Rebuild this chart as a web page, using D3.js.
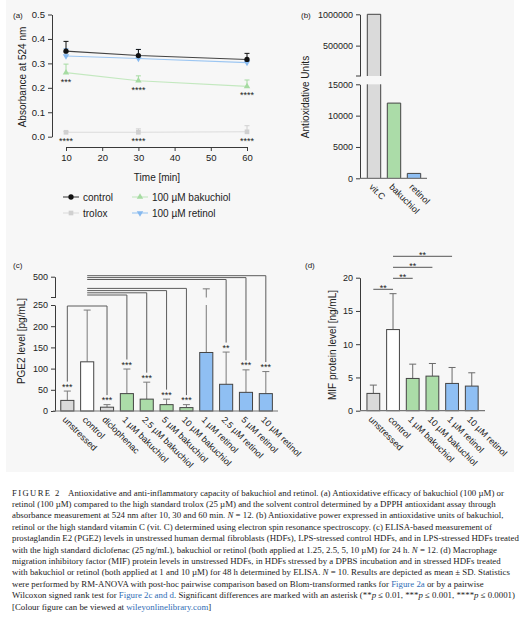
<!DOCTYPE html>
<html>
<head>
<meta charset="utf-8">
<script src="https://cdn.jsdelivr.net/npm/d3@7"></script>
<style>
  html, body { margin: 0; padding: 0; background: #fff; }
  svg { display: block; font-family: "Liberation Sans", Arial, sans-serif; }
</style>
</head>
<body>
<div id="fig"></div>
<script>
// ---- panel (a): DPPH assay, absorbance at 524 nm ----
var times = [10, 30, 60];
var timeTicks = [10, 20, 30, 40, 50, 60];
var absTicks = [0, 0.1, 0.2, 0.3, 0.4, 0.5];
var controlMean = [0.350, 0.332, 0.316];
var controlSd = [0.040, 0.025, 0.025];
var troloxMean = [0.018, 0.018, 0.020];
var troloxSd = [0.003, 0.014, 0.025];
var bakuchiolMean = [0.262, 0.229, 0.206];
var bakuchiolSd = [0.035, 0.020, 0.026];
var retinolMean = [0.330, 0.320, 0.303];
var retinolSd = [0.030, 0.037, 0.006];
var bakuchiolStars = ["***", "****", "****"];
var troloxStars = ["****", "****", "****"];
var seriesNames = ["control", "trolox", "100 µM bakuchiol", "100 µM retinol"];

// ---- panel (b): antioxidative units ----
var antioxCats = ["vit.C", "bakuchiol", "retinol"];
var antioxUnits = [1000000, 12000, 780];
var antioxLowTicks = [0, 5000, 10000, 15000];
var antioxHighTicks = [500000, 1000000];

// ---- panel (c): PGE2 ----
var pgeCats = ["unstressed", "control", "diclophenac", "1 µM bakuchiol", "2.5 µM bakuchiol",
  "5 µM bakuchiol", "10 µM bakuchiol", "1 µM retinol", "2.5 µM retinol", "5 µM retinol", "10 µM retinol"];
var pgeGroup = ["gray", "white", "gray", "green", "green", "green", "green", "blue", "blue", "blue", "blue"];
var pgeMean = [25, 116, 9, 41, 28, 15, 8, 138, 63, 44, 41];
var pgeSd = [22, 122, 6, 58, 40, 13, 7, 222, 76, 53, 52];
var pgeStars = ["***", "", "***", "***", "***", "***", "***", "", "**", "***", "***"];
var pgeLowTicks = [0, 50, 100, 150, 200, 250];
var pgeHighTicks = [500];
// comparisons against control, drawn as stacked brackets
var pgeUpperBrackets = ["2.5 µM retinol", "5 µM retinol", "10 µM retinol"];
var pgeMidBrackets = ["1 µM bakuchiol", "2.5 µM bakuchiol", "5 µM bakuchiol", "10 µM bakuchiol"];

// ---- panel (d): MIF ----
var mifCats = ["unstressed", "control", "1 µM bakuchiol", "10 µM bakuchiol", "1 µM retinol", "10 µM retinol"];
var mifGroup = ["gray", "white", "green", "green", "blue", "blue"];
var mifMean = [2.6, 12.2, 4.85, 5.2, 4.1, 3.7];
var mifSd = [1.25, 5.4, 2.15, 1.9, 2.4, 2.0];
var mifTicks = [0, 5, 10, 15, 20];
var mifPairs = [["unstressed", "control"], ["control", "1 µM bakuchiol"],
  ["control", "10 µM bakuchiol"], ["control", "1 µM retinol"]];
var mifPairStars = ["**", "**", "**", "**"];

// ---- caption ----
var captionLines = [
  "Antioxidative and anti-inflammatory capacity of bakuchiol and retinol. (a) Antioxidative efficacy of bakuchiol (100 µM) or",
  "retinol (100 µM) compared to the high standard trolox (25 µM) and the solvent control determined by a DPPH antioxidant assay through",
  "absorbance measurement at 524 nm after 10, 30 and 60 min. N = 12. (b) Antioxidative power expressed in antioxidative units of bakuchiol,",
  "retinol or the high standard vitamin C (vit. C) determined using electron spin resonance spectroscopy. (c) ELISA-based measurement of",
  "prostaglandin E2 (PGE2) levels in unstressed human dermal fibroblasts (HDFs), LPS-stressed control HDFs, and in LPS-stressed HDFs treated",
  "with the high standard diclofenac (25 ng/mL), bakuchiol or retinol (both applied at 1.25, 2.5, 5, 10 µM) for 24 h. N = 12. (d) Macrophage",
  "migration inhibitory factor (MIF) protein levels in unstressed HDFs, in HDFs stressed by a DPBS incubation and in stressed HDFs treated",
  "with bakuchiol or retinol (both applied at 1 and 10 µM) for 48 h determined by ELISA. N = 10. Results are depicted as mean ± SD. Statistics",
  "were performed by RM-ANOVA with post-hoc pairwise comparison based on Blom-transformed ranks for Figure 2a or by a pairwise",
  "Wilcoxon signed rank test for Figure 2c and d. Significant differences are marked with an asterisk (**p ≤ 0.01, ***p ≤ 0.001, ****p ≤ 0.0001)",
  "[Colour figure can be viewed at wileyonlinelibrary.com]"
];

var fills = { gray: "#dadada", white: "#ffffff", green: "#abdca8", blue: "#8fbff3" };
var axisColor = "#3a3a3a";
var tickFont = 9.5;

var svg = d3.select("#fig").append("svg")
  .attr("width", 525)
  .attr("height", 621);

svg.append("rect")
  .attr("x", 6).attr("y", 0)
  .attr("width", 508).attr("height", 472)
  .attr("fill", "#f7f7f7");

function styleAxis(sel) {
  sel.select(".domain").attr("stroke", axisColor).attr("stroke-width", 1);
  sel.selectAll(".tick line").attr("stroke", axisColor).attr("stroke-width", 1);
  sel.selectAll(".tick text")
    .attr("fill", "#222")
    .style("font-size", tickFont + "px")
    .style("font-family", '"Liberation Sans", Arial, sans-serif');
}

function panelLabel(txt, x, y) {
  svg.append("text").attr("x", x).attr("y", y).attr("dy", "0.35em")
    .style("font-size", "8px").attr("fill", "#222").text(txt);
}

function yTitle(txt, x, y) {
  svg.append("text")
    .attr("transform", "translate(" + x + "," + y + ") rotate(-90)")
    .attr("text-anchor", "middle").attr("dy", "0.35em")
    .style("font-size", "10px").attr("fill", "#222").text(txt);
}

function rotatedLabels(g, cats, xs, axisY) {
  g.selectAll("text.cat").data(cats).enter().append("text")
    .attr("class", "cat")
    .attr("transform", function(d) { return "translate(" + (xs(d) - 3) + "," + (axisY + 7) + ") rotate(45)"; })
    .attr("dy", "0.35em")
    .style("font-size", "9px").attr("fill", "#222")
    .text(function(d) { return d; });
}

// ================= panel (a) =================
(function() {
  var xA = d3.scaleLinear().domain([10, 60]).range([66, 247]);
  var yA = d3.scaleLinear().domain([0, 0.5]).range([136.7, 14.5]);
  var g = svg.append("g");

  g.append("g").attr("transform", "translate(52,0)")
    .call(d3.axisLeft(yA).tickValues(absTicks).tickFormat(d3.format(".1f")).tickSize(4).tickSizeOuter(0))
    .call(styleAxis);
  g.append("g").attr("transform", "translate(0,147)")
    .call(d3.axisBottom(xA).tickValues(timeTicks).tickSize(4).tickSizeOuter(0))
    .call(styleAxis);

  var series = [
    { name: seriesNames[1], mean: troloxMean, sd: troloxSd, line: "#dcdcdc", mark: "#d0d0d0", sym: d3.symbolSquare, rot: 0 },
    { name: seriesNames[2], mean: bakuchiolMean, sd: bakuchiolSd, line: "#c3e8bf", mark: "#a6dba2", sym: d3.symbolTriangle, rot: 0 },
    { name: seriesNames[3], mean: retinolMean, sd: retinolSd, line: "#9cc6f2", mark: "#86b9ef", sym: d3.symbolTriangle, rot: 180 },
    { name: seriesNames[0], mean: controlMean, sd: controlSd, line: "#444", mark: "#111", sym: d3.symbolCircle, rot: 0 }
  ];

  var line = d3.line().x(function(d) { return xA(d[0]); }).y(function(d) { return yA(d[1]); });

  series.forEach(function(s) {
    var pts = times.map(function(t, i) { return [t, s.mean[i], s.sd[i]]; });
    var sg = g.append("g");
    sg.selectAll("path.eb").data(pts).enter().append("path")
      .attr("class", "eb")
      .attr("d", function(d) {
        var x = xA(d[0]), y0 = yA(d[1]), y1 = yA(d[1] + d[2]);
        return "M" + x + "," + y0 + "V" + y1 + "M" + (x - 2.5) + "," + y1 + "H" + (x + 2.5);
      })
      .attr("stroke", s.mark).attr("stroke-width", 1).attr("fill", "none");
    sg.append("path").datum(pts).attr("d", line)
      .attr("fill", "none").attr("stroke", s.line).attr("stroke-width", 1.1);
    sg.selectAll("path.mk").data(pts).enter().append("path")
      .attr("class", "mk")
      .attr("transform", function(d) { return "translate(" + xA(d[0]) + "," + yA(d[1]) + ") rotate(" + s.rot + ")"; })
      .attr("d", d3.symbol().type(s.sym).size(s.sym === d3.symbolTriangle ? 18 : 22))
      .attr("fill", s.mark);
  });

  var starData = times.map(function(t, i) { return [t, bakuchiolMean[i], bakuchiolStars[i]]; })
    .concat(times.map(function(t, i) { return [t, troloxMean[i], troloxStars[i]]; }));
  g.selectAll("text.star").data(starData).enter().append("text")
    .attr("x", function(d) { return xA(d[0]); })
    .attr("y", function(d) { return yA(d[1]) + 12; })
    .attr("text-anchor", "middle")
    .style("font-size", "9px").attr("fill", "#222")
    .text(function(d) { return d[2]; });

  // x title
  g.append("text").attr("x", 157).attr("y", 177).attr("dy", "0.35em")
    .attr("text-anchor", "middle").style("font-size", "10px").attr("fill", "#222").text("Time [min]");

  // legend
  var legendOrder = [series[3], series[0], series[1], series[2]];
  legendOrder.forEach(function(s, i) {
    var col = i < 2 ? 0 : 1, row = i % 2;
    var x0 = col === 0 ? 63 : 132, y0 = row === 0 ? 197 : 213;
    var lg = g.append("g");
    lg.append("line").attr("x1", x0).attr("x2", x0 + 16).attr("y1", y0).attr("y2", y0)
      .attr("stroke", s.line).attr("stroke-width", 1.1);
    lg.append("path")
      .attr("transform", "translate(" + (x0 + 8) + "," + y0 + ") rotate(" + s.rot + ")")
      .attr("d", d3.symbol().type(s.sym).size(s.sym === d3.symbolTriangle ? 18 : 22))
      .attr("fill", s.mark);
    lg.append("text").attr("x", x0 + 20).attr("y", y0).attr("dy", "0.35em")
      .style("font-size", "10px").attr("fill", "#222").text(s.name);
  });

  yTitle("Absorbance at 524 nm", 22, 77);
  panelLabel("(a)", 13, 15);
})();

// ================= panel (b) =================
(function() {
  var xB = d3.scaleBand().domain(antioxCats).range([364, 424]).paddingInner(0.33).paddingOuter(0.165);
  var yLow = d3.scaleLinear().domain([0, 15000]).range([178.3, 84.3]);
  var yHigh = d3.scaleLinear().domain([15000, 1000000]).range([76, 14.3]);
  var g = svg.append("g");

  g.append("g").attr("transform", "translate(360,0)")
    .call(d3.axisLeft(yLow).tickValues(antioxLowTicks).tickFormat(d3.format("d")).tickSize(4).tickSizeOuter(0))
    .call(styleAxis);
  g.append("g").attr("transform", "translate(360,0)")
    .call(d3.axisLeft(yHigh).tickValues(antioxHighTicks).tickFormat(d3.format("d")).tickSize(4).tickSizeOuter(0))
    .call(styleAxis);
  // end tick of the upper segment
  g.append("line").attr("x1", 356).attr("x2", 360).attr("y1", yHigh(15000)).attr("y2", yHigh(15000))
    .attr("stroke", axisColor);
  g.selectAll(".tick text").style("font-size", "9px");

  var bw = xB.bandwidth();
  antioxCats.forEach(function(c, i) {
    var v = antioxUnits[i];
    var x = xB(c);
    var fill = [fills.gray, fills.green, fills.blue][i];
    var topLow = yLow(Math.min(v, 15000));
    var bottom = yLow(0);
    var path;
    if (v > 15000) {
      var topHigh = yHigh(v);
      g.append("rect").attr("x", x).attr("y", topHigh).attr("width", bw).attr("height", yHigh(15000) - topHigh).attr("fill", fill);
      g.append("rect").attr("x", x).attr("y", topLow).attr("width", bw).attr("height", bottom - topLow).attr("fill", fill);
      path = "M" + x + "," + yHigh(15000) + "V" + topHigh + "H" + (x + bw) + "V" + yHigh(15000) +
        "M" + x + "," + topLow + "V" + bottom + "M" + (x + bw) + "," + topLow + "V" + bottom;
    } else {
      g.append("rect").attr("x", x).attr("y", topLow).attr("width", bw).attr("height", bottom - topLow).attr("fill", fill);
      path = "M" + x + "," + bottom + "V" + topLow + "H" + (x + bw) + "V" + bottom;
    }
    g.append("path").attr("d", path).attr("fill", "none").attr("stroke", "#444").attr("stroke-width", 1);
  });

  g.append("line").attr("x1", 360).attr("x2", 427).attr("y1", yLow(0)).attr("y2", yLow(0))
    .attr("stroke", "#777").attr("stroke-width", 1.2);

  var xc = function(d) { return xB(d) + bw / 2; };
  rotatedLabels(g, antioxCats, xc, yLow(0));

  yTitle("Antioxidative Units", 305, 97);
  panelLabel("(b)", 301, 15);
})();

// ================= bar helper for (c) and (d) =================
function drawBars(g, cats, groups, mean, xS, yS, barW) {
  cats.forEach(function(c, i) {
    var cx = xS(c);
    var top = yS(mean[i]), bottom = yS(0);
    g.append("rect")
      .attr("x", cx - barW / 2).attr("y", top)
      .attr("width", barW).attr("height", bottom - top)
      .attr("fill", fills[groups[i]])
      .attr("stroke", "#444").attr("stroke-width", 1);
  });
}

// ================= panel (c) =================
(function() {
  var xC = d3.scalePoint().domain(pgeCats).range([57.4, 275.75]).padding(0.5);
  var yLow = d3.scaleLinear().domain([0, 250]).range([411, 305]);
  var yHigh = d3.scaleLinear().domain([260, 500]).range([297.5, 276.7]);
  var barW = xC.step() * 0.66;
  var g = svg.append("g");

  g.append("g").attr("transform", "translate(55,0)")
    .call(d3.axisLeft(yLow).tickValues(pgeLowTicks).tickSize(4).tickSizeOuter(0))
    .call(styleAxis);
  g.append("g").attr("transform", "translate(55,0)")
    .call(d3.axisLeft(yHigh).tickValues(pgeHighTicks).tickSize(4).tickSizeOuter(0))
    .call(styleAxis);
  g.append("line").attr("x1", 51).attr("x2", 55).attr("y1", yHigh(260)).attr("y2", yHigh(260))
    .attr("stroke", axisColor);
  g.selectAll(".tick text").style("font-size", "9px");

  // error bars (upward only), broken where the axis breaks
  var errTop = [];
  pgeCats.forEach(function(c, i) {
    var cx = xC(c);
    var hi = pgeMean[i] + pgeSd[i];
    var y0 = yLow(pgeMean[i]);
    var d;
    if (hi > 250) {
      var y1 = yHigh(hi);
      d = "M" + cx + "," + y0 + "V" + yLow(250) + "M" + cx + "," + yHigh(260) + "V" + y1 +
        "M" + (cx - 3.5) + "," + y1 + "H" + (cx + 3.5);
      errTop.push(y1);
    } else {
      var y2 = yLow(hi);
      d = "M" + cx + "," + y0 + "V" + y2 + "M" + (cx - 3.5) + "," + y2 + "H" + (cx + 3.5);
      errTop.push(y2);
    }
    g.append("path").attr("d", d).attr("stroke", "#7a7a7a").attr("stroke-width", 1).attr("fill", "none");
  });

  drawBars(g, pgeCats, pgeGroup, pgeMean, xC, yLow, barW);

  g.append("line").attr("x1", 53).attr("x2", 278).attr("y1", yLow(0)).attr("y2", yLow(0))
    .attr("stroke", "#777").attr("stroke-width", 1.2);

  // stars
  pgeCats.forEach(function(c, i) {
    if (!pgeStars[i]) return;
    g.append("text").attr("x", xC(c)).attr("y", errTop[i] - 1.5)
      .attr("text-anchor", "middle").style("font-size", "9px").attr("fill", "#222")
      .text(pgeStars[i]);
  });

  // brackets vs control
  var ctrlX = xC("control");
  var idx = function(name) { return pgeCats.indexOf(name); };
  var bracketColor = "#5c5c5c";
  function drop(name, yLevel) {
    var tx = xC(name);
    g.append("path")
      .attr("d", "M" + ctrlX + "," + yLevel + "H" + tx + "V" + (errTop[idx(name)] - 9.5))
      .attr("fill", "none").attr("stroke", bracketColor).attr("stroke-width", 1);
  }
  pgeUpperBrackets.forEach(function(name, k) { drop(name, 279.5 - 1.9 * k); });
  pgeMidBrackets.forEach(function(name, k) { drop(name, 295 - 2.2 * k); });
  // unstressed / diclophenac bracket across control
  var yU = 306;
  g.append("path")
    .attr("d", "M" + xC("unstressed") + "," + (errTop[0] - 9.5) + "V" + yU + "H" + xC("diclophenac") +
      "V" + (errTop[idx("diclophenac")] - 9.5))
    .attr("fill", "none").attr("stroke", bracketColor).attr("stroke-width", 1);

  rotatedLabels(g, pgeCats, xC, yLow(0));

  yTitle("PGE2 level [pg/mL]", 21, 341);
  panelLabel("(c)", 13, 265);
})();

// ================= panel (d) =================
(function() {
  var xD = d3.scalePoint().domain(mifCats).range([363.5, 481.6]).padding(0.5);
  var yD = d3.scaleLinear().domain([0, 20]).range([410.7, 277.7]);
  var barW = xD.step() * 0.65;
  var g = svg.append("g");

  g.append("g").attr("transform", "translate(360,0)")
    .call(d3.axisLeft(yD).tickValues(mifTicks).tickSize(4).tickSizeOuter(0))
    .call(styleAxis);
  g.selectAll(".tick text").style("font-size", "9px");

  mifCats.forEach(function(c, i) {
    var cx = xD(c);
    var y0 = yD(mifMean[i]), y1 = yD(mifMean[i] + mifSd[i]);
    g.append("path")
      .attr("d", "M" + cx + "," + y0 + "V" + y1 + "M" + (cx - 3.5) + "," + y1 + "H" + (cx + 3.5))
      .attr("stroke", "#6a6a6a").attr("stroke-width", 1).attr("fill", "none");
  });

  drawBars(g, mifCats, mifGroup, mifMean, xD, yD, barW);

  g.append("line").attr("x1", 360).attr("x2", 485).attr("y1", yD(0)).attr("y2", yD(0))
    .attr("stroke", "#777").attr("stroke-width", 1.2);

  mifPairs.forEach(function(p, k) {
    var yL = 289.3 - 11 * k;
    var x1 = xD(p[0]), x2 = xD(p[1]);
    g.append("line").attr("x1", x1).attr("x2", x2).attr("y1", yL).attr("y2", yL)
      .attr("stroke", "#555").attr("stroke-width", 1);
    g.append("text").attr("x", (x1 + x2) / 2).attr("y", yL + 2)
      .attr("text-anchor", "middle").style("font-size", "9px").attr("fill", "#222")
      .text(mifPairStars[k]);
  });

  rotatedLabels(g, mifCats, xD, yD(0));

  yTitle("MIF protein level [ng/mL]", 332, 345);
  panelLabel("(d)", 305, 265);
})();

// ================= caption =================
(function() {
  var g = svg.append("g").style("font-family", '"Liberation Serif", "Times New Roman", serif').attr("fill", "#222");
  var blue = "#2f6db5";
  var tokenRe = /(Figure 2a|Figure 2c and d|wileyonlinelibrary\.com|\bN(?= =)|(?<=\*)p)/;
  var nodes = [];
  captionLines.forEach(function(line, i) {
    var t = g.append("text").attr("x", 12).attr("y", 495.5 + 11.4 * i).style("font-size", "9px");
    if (i === 0) {
      t.append("tspan").style("letter-spacing", "1.4px").style("font-size", "8.6px").text("FIGURE 2");
    }
    var first = true;
    line.split(tokenRe).forEach(function(part) {
      if (!part) return;
      var sp = t.append("tspan").text(part);
      if (i === 0 && first) sp.attr("x", 68);
      first = false;
      if (/^(Figure|wiley)/.test(part)) sp.attr("fill", blue);
      if (part === "N" || part === "p") sp.style("font-style", "italic");
    });
    nodes.push(t);
  });
  // fit the longest line to the text block width
  var w = nodes[4].node().getComputedTextLength();
  var size = 9 * 508 / w;
  nodes.forEach(function(t) { t.style("font-size", size + "px"); });
})();
</script>
</body>
</html>
